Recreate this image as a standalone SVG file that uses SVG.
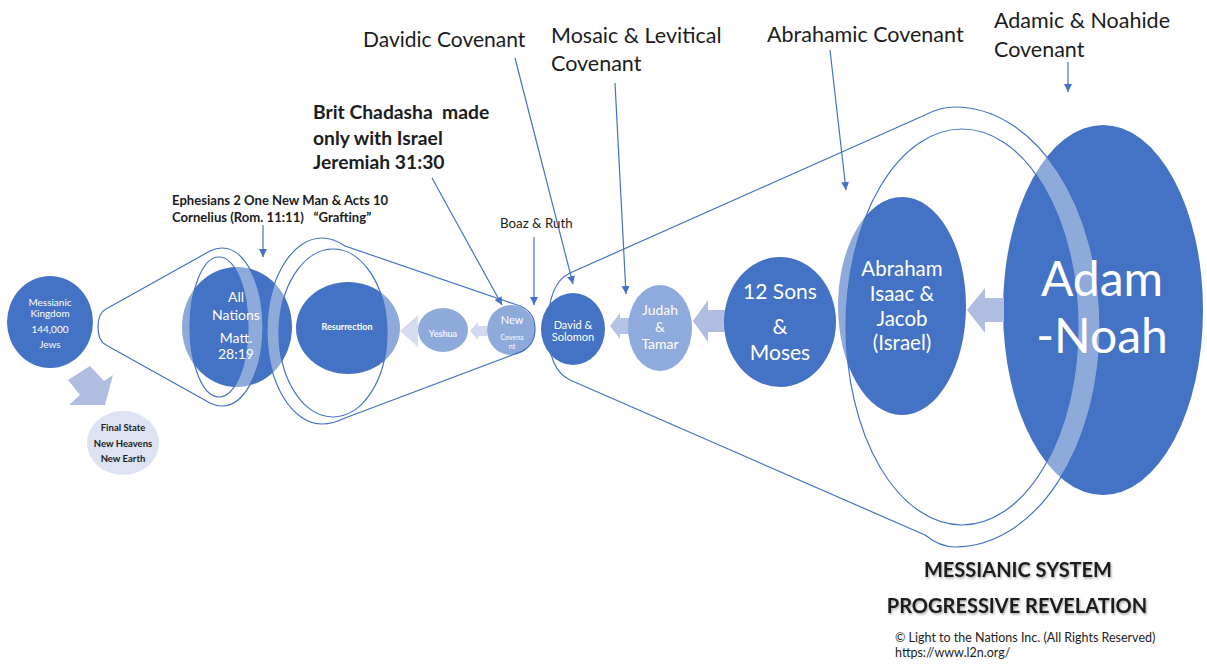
<svg xmlns="http://www.w3.org/2000/svg" width="1207" height="665" viewBox="0 0 1207 665">
<defs>
<style>
.t{font-family:Lato,"Liberation Sans",sans-serif}
.m{text-anchor:middle}
.w{fill:#fff}
.k{fill:#1c1c1c}
.b{font-weight:bold}
.dk{fill:#4472C4}
.lt{fill:#8FAADC}
.ol{fill:none;stroke:#4472C4;stroke-width:1.2}
.ov{fill:#fff;fill-opacity:.4;fill-rule:evenodd;stroke:none}
.ptr{stroke:#4472C4;stroke-width:1.2;fill:none;marker-end:url(#ah)}
</style>
<marker id="ah" viewBox="0 0 10 10" refX="10" refY="5" markerWidth="8" markerHeight="8" markerUnits="userSpaceOnUse" orient="auto"><path d="M0,0 L10,5 L0,10 Z" fill="#4472C4"/></marker>
<filter id="sh" x="-5%" y="-30%" width="110%" height="160%"><feDropShadow dx="1" dy="1.5" stdDeviation="1" flood-color="#000" flood-opacity=".35"/></filter>
</defs>
<rect width="1207" height="665" fill="#fff"/>

<!-- base nodes (beneath funnel overlays) -->
<g id="node-all-nations-shape"><ellipse class="dk" cx="237" cy="327" rx="55" ry="60"/></g>
<g id="node-resurrection-shape"><ellipse class="dk" cx="348" cy="328" rx="52" ry="46"/></g>
<g id="node-yeshua-shape"><ellipse class="dk" cx="443" cy="330" rx="25" ry="22"/></g>
<g id="node-new-covenant-shape"><ellipse class="dk" cx="511" cy="330" rx="24" ry="25"/></g>
<g id="node-abraham-shape"><ellipse class="dk" cx="902" cy="306" rx="64" ry="109"/></g>
<g id="node-adam-noah-shape"><ellipse class="dk" cx="1103" cy="310" rx="100" ry="185"/></g>

<!-- funnel translucent bodies -->
<g id="funnels">
<path class="ov" d="M210,251 Q216,248 222,248 A41 79 0 0 1 222,406 Q216,406 210,403 L106,345 C100,342 98,336 98,327 C98,318 100,312 106,309 Z M190,327 A29 70 0 1 0 248,327 A29 70 0 1 0 190,327 Z"/>
<path class="ov" d="M520,306 L345,246 Q333,238 322,238 A55 93 0 0 0 322,424 Q333,424 345,418 L520,352 C530,348 535,340 535,329 C535,318 530,310 520,306 Z M279,333 A54 84 0 1 0 387,333 A54 84 0 1 0 279,333 Z"/>
<path class="ov" d="M570,273 L925,115 Q940,107 955,107 A145 220 0 0 1 955,547 Q940,547 925,535 L570,380 C555,373 548,354 548,327 C548,300 555,280 570,273 Z M846,327 A116 198 0 1 0 1078,327 A116 198 0 1 0 846,327 Z"/>
</g>

<!-- block arrows and pointers -->
<g id="connectors">
<polygon fill="#AFBDE1" points="90,366 104,381 113,375 105,405 69,405 80,395 68,380"/>
<polygon fill="#D5DCEF" points="400,331 418,315 418,347"/>
<polygon fill="#D0D9EE" points="470,331 478,322 478,326 487,326 487,336 478,336 478,340"/>
<polygon fill="#B4C3E6" points="610,326 620,313 620,318 630,318 630,334 620,334 620,339"/>
<polygon fill="#AFBDE0" points="693,321 708,300 708,310 725,310 725,332 708,332 708,342"/>
<polygon fill="#AFBDE0" points="967,310 985,288 985,298 1004,298 1004,322 985,322 985,333"/>
<path class="ptr" d="M1068,62 L1068,92"/>
<path class="ptr" d="M830,50 L846,190"/>
<path class="ptr" d="M615,83 L626,294"/>
<path class="ptr" d="M515,58 L573,284"/>
<path class="ptr" d="M432,178 L502,305"/>
<path class="ptr" d="M534,237 L534,305"/>
<path class="ptr" d="M263,225 L263,257"/>
</g>

<!-- funnel outlines -->
<g id="funnel-outlines">
<path class="ol" d="M210,251 Q216,248 222,248 A41 79 0 0 1 222,406 Q216,406 210,403 L106,345 C100,342 98,336 98,327 C98,318 100,312 106,309 Z"/>
<ellipse class="ol" cx="219" cy="327" rx="29" ry="70"/>
<path class="ol" d="M520,306 L345,246 Q333,238 322,238 A55 93 0 0 0 322,424 Q333,424 345,418 L520,352 C530,348 535,340 535,329 C535,318 530,310 520,306 Z"/>
<ellipse class="ol" cx="333" cy="333" rx="54" ry="84"/>
<path class="ol" d="M570,273 L925,115 Q940,107 955,107 A145 220 0 0 1 955,547 Q940,547 925,535 L570,380 C555,373 548,354 548,327 C548,300 555,280 570,273 Z"/>
<ellipse class="ol" cx="962" cy="327" rx="116" ry="198"/>
</g>

<!-- nodes drawn above funnels -->
<g id="node-messianic-kingdom">
<ellipse class="dk" cx="50" cy="322" rx="43" ry="46"/>
<text class="t m w" font-size="10"><tspan x="50" y="306">Messianic</tspan><tspan x="50" y="317">Kingdom</tspan><tspan x="50" y="333">144,000</tspan><tspan x="50" y="348">Jews</tspan></text>
</g>
<g id="node-final-state">
<ellipse fill="#DDE3F2" cx="123" cy="443" rx="36" ry="32"/>
<text class="t m k b" font-size="9.5"><tspan x="123" y="431">Final State</tspan><tspan x="123" y="447">New Heavens</tspan><tspan x="123" y="462">New Earth</tspan></text>
</g>
<g id="node-all-nations">
<text class="t m w" font-size="14"><tspan x="236" y="302">All</tspan><tspan x="236" y="320">Nations</tspan><tspan x="236" y="343">Matt.</tspan><tspan x="236" y="359">28:19</tspan></text>
</g>
<g id="node-resurrection">
<text class="t m w b" font-size="9" x="347" y="330">Resurrection</text>
</g>
<g id="node-yeshua">
<text class="t m b" fill="#F0F4FB" font-size="9" x="443" y="337">Yeshua</text>
</g>
<g id="node-new-covenant">
<text class="t m w" font-size="11" x="512" y="324">New</text>
<text class="t m w" font-size="7"><tspan x="512" y="339.5">Covena</tspan><tspan x="512" y="349">nt</tspan></text>
</g>
<g id="node-david-solomon">
<ellipse class="dk" cx="573" cy="329" rx="32" ry="36"/>
<text class="t m w" font-size="11"><tspan x="573" y="329">David &amp;</tspan><tspan x="573" y="341">Solomon</tspan></text>
</g>
<g id="node-judah-tamar">
<ellipse class="lt" cx="660" cy="328" rx="32" ry="43"/>
<text class="t m w" font-size="14"><tspan x="660" y="315">Judah</tspan><tspan x="660" y="332">&amp;</tspan><tspan x="660" y="349">Tamar</tspan></text>
</g>
<g id="node-12-sons-moses">
<ellipse class="dk" cx="780" cy="322" rx="56" ry="65"/>
<text class="t m w" font-size="21"><tspan x="780" y="299">12 Sons</tspan><tspan x="780" y="334">&amp;</tspan><tspan x="780" y="360">Moses</tspan></text>
</g>
<g id="node-abraham">
<text class="t m w" font-size="20.5"><tspan x="902" y="276">Abraham</tspan><tspan x="902" y="301">Isaac &amp;</tspan><tspan x="902" y="326">Jacob</tspan><tspan x="902" y="350">(Israel)</tspan></text>
</g>
<g id="node-adam-noah">
<text class="t m w" font-size="48"><tspan x="1102" y="296">Adam</tspan><tspan x="1102" y="353">-Noah</tspan></text>
</g>

<!-- labels -->
<g id="labels">
<text class="t k" font-size="21" x="363" y="47">Davidic Covenant</text>
<text class="t k" font-size="21.5"><tspan x="551" y="43">Mosaic &amp; Levitical</tspan><tspan x="551" y="71">Covenant</tspan></text>
<text class="t k" font-size="21.5" x="767" y="42">Abrahamic Covenant</text>
<text class="t k" font-size="21.5"><tspan x="994" y="28">Adamic &amp; Noahide</tspan><tspan x="994" y="57">Covenant</tspan></text>
<text class="t k b" font-size="19.3"><tspan x="313" y="119">Brit Chadasha&#160; made</tspan><tspan x="313" y="145">only with Israel</tspan><tspan x="313" y="169">Jeremiah 31:30</tspan></text>
<text class="t k b" font-size="13.1"><tspan x="172" y="205">Ephesians 2 One New Man &amp; Acts 10</tspan><tspan x="172" y="222">Cornelius (Rom. 11:11)&#160;&#160; “Grafting”</tspan></text>
<text class="t k" font-size="13.3" x="500" y="228">Boaz &amp; Ruth</text>
<text class="t k b m" font-size="20" x="1018" y="577" filter="url(#sh)">MESSIANIC SYSTEM</text>
<text class="t k b m" font-size="20" x="1017" y="613" filter="url(#sh)">PROGRESSIVE REVELATION</text>
<text class="t k" font-size="12.5"><tspan x="895" y="642">© Light to the Nations Inc. (All Rights Reserved)</tspan><tspan x="895" y="657">https://www.l2n.org/</tspan></text>
</g>
</svg>
